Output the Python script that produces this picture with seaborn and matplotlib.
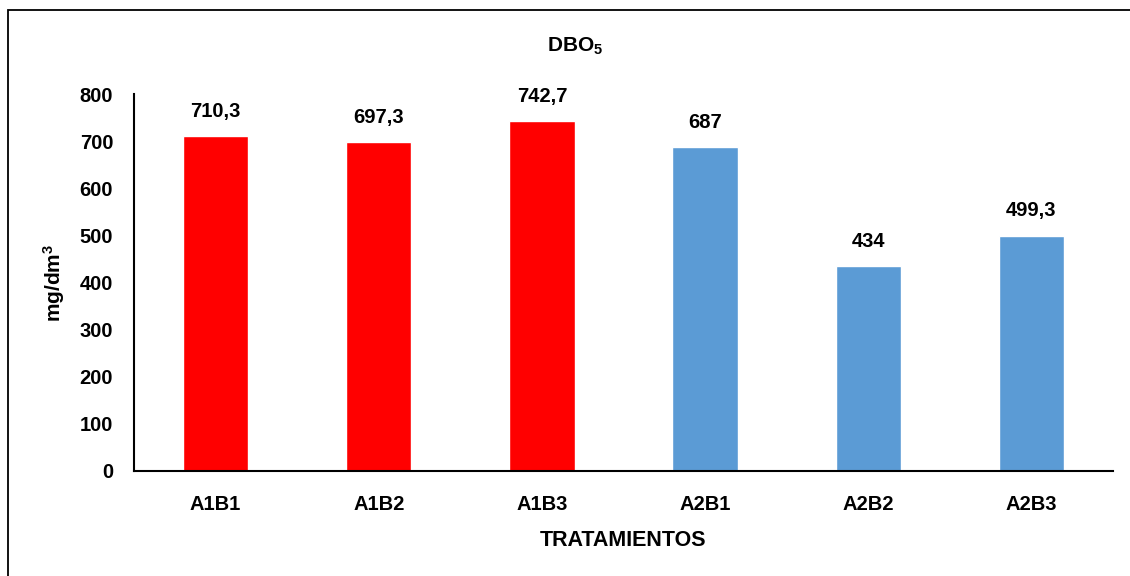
import matplotlib
matplotlib.use("Agg")
import matplotlib.pyplot as plt
import seaborn as sns
from matplotlib.patches import Rectangle

categories = ["A1B1", "A1B2", "A1B3", "A2B1", "A2B2", "A2B3"]
values = [710.3, 697.3, 742.7, 687, 434, 499.3]
labels = ["710,3", "697,3", "742,7", "687", "434", "499,3"]
colors = ["#FF0000", "#FF0000", "#FF0000", "#5B9BD5", "#5B9BD5", "#5B9BD5"]
yticks = [0, 100, 200, 300, 400, 500, 600, 700, 800]

sns.set_theme(style="white")
FONT = ["Liberation Sans", "DejaVu Sans"]
plt.rcParams["font.family"] = FONT
plt.rcParams["font.weight"] = "bold"
plt.rcParams["mathtext.fontset"] = "custom"
plt.rcParams["mathtext.rm"] = "Liberation Sans:bold"
plt.rcParams["mathtext.it"] = "Liberation Sans:bold"
plt.rcParams["mathtext.bf"] = "Liberation Sans:bold"
plt.rcParams["mathtext.default"] = "rm"

fig = plt.figure(figsize=(11.3, 5.76), dpi=100)
ax = fig.add_axes([134 / 1130, 1 - 471 / 576, (1113 - 134) / 1130, (471 - 94) / 576])

sns.barplot(x=categories, y=values, hue=categories, palette=colors, width=0.4,
            legend=False, ax=ax, saturation=1)

ax.set_ylim(0, 800)
ax.set_yticks(yticks)
ax.set_xlim(-0.5, len(categories) - 0.5)
ax.tick_params(axis="both", length=0, labelsize=14.5, colors="black")
ax.tick_params(axis="x", pad=17)
ax.tick_params(axis="y", pad=15)
for t in ax.get_xticklabels() + ax.get_yticklabels():
    t.set_fontweight("bold")

for s in ["top", "right"]:
    ax.spines[s].set_visible(False)
for s in ["left", "bottom"]:
    ax.spines[s].set_color("black")
    ax.spines[s].set_linewidth(1.5)

for i, (v, lab) in enumerate(zip(values, labels)):
    ax.annotate(lab, (i, v), xytext=(0, 11), textcoords="offset points",
                ha="center", va="bottom", fontsize=14.5, fontweight="bold", color="black")

ax.set_xlabel("TRATAMIENTOS", fontsize=15.5, fontweight="bold", color="black", labelpad=12)
ax.set_ylabel("mg/dm$^3$", fontsize=15, fontweight="bold", color="black", labelpad=9)
fig.text(575 / 1130, 1 - 46 / 576, "DBO$_5$", ha="center", va="center",
         fontsize=15, fontweight="bold", color="black")

fig.patches.append(Rectangle((8 / 1130, -0.05), 1.1, 1 - 10 / 576 + 0.05,
                             transform=fig.transFigure, fill=False,
                             edgecolor="black", linewidth=1.3))

fig.savefig("out.png", dpi=100)
